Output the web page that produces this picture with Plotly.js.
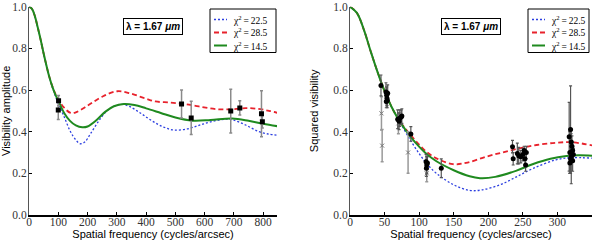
<!DOCTYPE html>
<html>
<head>
<meta charset="utf-8">
<script src="https://cdn.plot.ly/plotly-3.0.1.min.js"></script>
<style>html,body{margin:0;padding:0;background:#fff;}#plot{width:600px;height:240px;}</style>
</head>
<body>
<div id="plot"></div>
<script>
// ---------- Left panel: visibility amplitude ----------
var leftBlueX  = [0,10,20,30,40,50,60,70,80,90,100,120,140,160,175,190,210,240,270,300,320,345,380,420,460,495,540,580,620,672,700,740,785,820,850];
var leftBlueY  = [1.0,0.99,0.955,0.9,0.84,0.775,0.715,0.66,0.612,0.572,0.535,0.472,0.405,0.36,0.342,0.35,0.39,0.455,0.505,0.527,0.531,0.52,0.49,0.452,0.422,0.408,0.413,0.43,0.447,0.46,0.455,0.432,0.40,0.388,0.383];
var leftRedX   = [0,10,20,30,40,50,60,70,80,90,100,120,142,160,200,250,302,350,400,432,480,530,580,640,700,740,780,820,850];
var leftRedY   = [1.0,0.99,0.955,0.9,0.84,0.775,0.715,0.66,0.617,0.582,0.555,0.515,0.49,0.493,0.525,0.568,0.594,0.582,0.558,0.545,0.54,0.533,0.521,0.508,0.508,0.513,0.51,0.5,0.49];
var leftGreenX = [0,10,20,30,40,50,60,70,80,90,100,120,140,160,182,200,230,260,290,324,360,400,450,500,558,620,694,750,800,850];
var leftGreenY = [1.0,0.99,0.955,0.9,0.84,0.775,0.715,0.66,0.615,0.578,0.548,0.49,0.452,0.43,0.421,0.425,0.455,0.495,0.522,0.533,0.528,0.512,0.49,0.468,0.453,0.456,0.463,0.452,0.438,0.426];
var leftDataX   = [100,101,521,554,689,720,794,797];
var leftDataY   = [0.504,0.549,0.533,0.466,0.499,0.514,0.486,0.448];
var leftDataErr = [0.045,0.025,0.067,0.08,0.105,0.034,0.11,0.03];

// ---------- Right panel: squared visibility ----------
var rightBlueX  = [0,10,20,30,40,50,60,70,80,90,100,110,125,150,173,190,217,240,265,298,320,350];
var rightBlueY  = [1.0,0.97,0.89,0.785,0.685,0.595,0.52,0.46,0.40,0.345,0.295,0.25,0.2,0.145,0.118,0.12,0.145,0.182,0.224,0.265,0.275,0.273];
var rightRedX   = [0,10,20,30,40,50,60,70,80,90,100,110,125,149,170,197,220,245,270,298,322,350];
var rightRedY   = [1.0,0.97,0.89,0.785,0.685,0.595,0.52,0.46,0.415,0.375,0.338,0.305,0.272,0.244,0.252,0.28,0.3,0.32,0.336,0.347,0.349,0.334];
var rightGreenX = [0,10,20,30,40,50,60,70,80,90,100,110,125,150,173,188,210,240,265,290,313,330,350];
var rightGreenY = [1.0,0.97,0.89,0.785,0.685,0.595,0.52,0.46,0.41,0.365,0.328,0.295,0.258,0.215,0.186,0.177,0.183,0.212,0.245,0.27,0.283,0.287,0.285];
var rightDotX   = [44.8,52,53,53.5,54,52.5,54.5,69,71,72,74,75,88,110,111,110.5,112,132,235,236,242,244,247,250,252,253,254,255,317,319,318,320,321,322,320,319,322,323,318];
var rightDotY   = [0.622,0.59,0.575,0.56,0.55,0.545,0.585,0.46,0.45,0.465,0.47,0.475,0.389,0.256,0.24,0.225,0.25,0.224,0.328,0.27,0.295,0.285,0.28,0.29,0.31,0.27,0.24,0.30,0.376,0.41,0.30,0.28,0.33,0.26,0.35,0.27,0.31,0.29,0.25];
var rightDotErr = [0.05,0.045,0.04,0.035,0.035,0.03,0.04,0.045,0.04,0.04,0.035,0.035,0.035,0.035,0.04,0.04,0.03,0.045,0.03,0.03,0.05,0.04,0.03,0.03,0.02,0.03,0.03,0.03,0.165,0.21,0.1,0.13,0.05,0.05,0.04,0.06,0.04,0.03,0.05];
var rightXmarkX   = [45.5,46.5,70,84,111];
var rightXmarkY   = [0.488,0.333,0.44,0.30,0.20];
var rightXmarkErr = [0.08,0.077,0.05,0.1,0.04];

var legendNames = ['\u03c7<sup>2</sup>\u2009=\u200922.5', '\u03c7<sup>2</sup>\u2009=\u200928.5', '\u03c7<sup>2</sup>\u2009=\u200914.5'];
var yTicks = [0,0.2,0.4,0.6,0.8,1.0];
var leftXTicks = [0,100,200,300,400,500,600,700,800];
var rightXTicks = [0,50,100,150,200,250,300,350];

var BLUE = '#2b3ee0', RED = '#e8222c', GREEN = '#1f8a1f';

function curve(x, y, color, dash, width, xa, ya) {
  return {x: x, y: y, mode: 'lines', xaxis: xa, yaxis: ya, showlegend: false, hoverinfo: 'skip',
          line: {color: color, dash: dash, width: width, shape: 'spline', smoothing: 1}};
}

var traces = [
  curve(leftBlueX, leftBlueY, BLUE, '2px,2px', 1.3, 'x', 'y'),
  curve(leftRedX, leftRedY, RED, '5px,3px', 1.8, 'x', 'y'),
  curve(leftGreenX, leftGreenY, GREEN, 'solid', 2, 'x', 'y'),
  {x: leftDataX, y: leftDataY, mode: 'markers', xaxis: 'x', yaxis: 'y', showlegend: false,
   marker: {symbol: 'square', size: 5, color: '#000'},
   error_y: {type: 'data', array: leftDataErr, color: '#8a8a8a', thickness: 1.5, width: 1.5}},
  curve(rightBlueX, rightBlueY, BLUE, '2px,2px', 1.3, 'x2', 'y2'),
  curve(rightRedX, rightRedY, RED, '5px,3px', 1.8, 'x2', 'y2'),
  curve(rightGreenX, rightGreenY, GREEN, 'solid', 2, 'x2', 'y2'),
  {x: rightXmarkX, y: rightXmarkY, mode: 'markers', xaxis: 'x2', yaxis: 'y2', showlegend: false,
   marker: {symbol: 'x-thin', size: 4, color: '#777', line: {color: '#777', width: 1}},
   error_y: {type: 'data', array: rightXmarkErr, color: '#999', thickness: 1.5, width: 1.5}},
  {x: rightDotX, y: rightDotY, mode: 'markers', xaxis: 'x2', yaxis: 'y2', showlegend: false,
   marker: {symbol: 'circle', size: 5, color: '#000'},
   error_y: {type: 'data', array: rightDotErr, color: '#555', thickness: 1.2, width: 1.5}}
];

function px(x) { return x / 600; }
function py(y) { return 1 - y / 240; }

var tickFont = {family: 'Liberation Serif, serif', size: 11.5, color: '#333'};
var titleFont = {family: 'Liberation Sans, Arial, sans-serif', size: 11, color: '#000'};

function xAxis(domain, range, ticks, title) {
  return {domain: domain, range: range, tickvals: ticks, ticktext: ticks.map(String),
          ticks: 'inside', ticklen: 3, tickcolor: '#000', showline: true, linecolor: '#000', linewidth: 1.5,
          showgrid: false, zeroline: false, tickfont: tickFont, ticklabelstandoff: -4,
          title: {text: title, font: titleFont}};
}
function yAxis(domain, anchor, title) {
  return {domain: domain, range: [0, 1], anchor: anchor, tickvals: yTicks, ticktext: yTicks.map(function(v){return v.toFixed(1);}),
          ticks: 'inside', ticklen: 3, tickcolor: '#000', showline: true, linecolor: '#555', linewidth: 1,
          showgrid: false, zeroline: false, tickfont: tickFont, ticklabelstandoff: -1,
          title: {text: title, font: titleFont}};
}
function frameX(over, anchor, range, ticks) {
  return {overlaying: over, anchor: anchor, side: 'top', range: range, tickvals: ticks, showticklabels: false,
          ticks: 'inside', ticklen: 3, tickcolor: '#666', showline: true, linecolor: '#666', linewidth: 1,
          showgrid: false, zeroline: false};
}
function frameY(over, anchor) {
  return {overlaying: over, anchor: anchor, side: 'right', range: [0, 1], tickvals: yTicks, showticklabels: false,
          ticks: 'inside', ticklen: 3, tickcolor: '#666', showline: true, linecolor: '#666', linewidth: 1,
          showgrid: false, zeroline: false};
}

var yDom = [py(215), py(6.7)];
var layout = {
  width: 600, height: 240,
  margin: {l: 0, r: 0, t: 0, b: 0},
  paper_bgcolor: '#fff', plot_bgcolor: '#fff',
  showlegend: false,
  xaxis: Object.assign(xAxis([px(29), px(277)], [0, 847], leftXTicks, 'Spatial frequency (cycles/arcsec)'), {anchor: 'y'}),
  yaxis: yAxis(yDom, 'x', 'Visibility amplitude'),
  xaxis2: Object.assign(xAxis([px(350), px(592)], [0, 350], rightXTicks, 'Spatial frequency (cycles/arcsec)'), {anchor: 'y2'}),
  yaxis2: yAxis(yDom, 'x2', 'Squared visibility'),
  xaxis3: frameX('x', 'y', [0, 847], leftXTicks),
  yaxis3: frameY('y', 'x'),
  xaxis4: frameX('x2', 'y2', [0, 350], rightXTicks),
  yaxis4: frameY('y2', 'x2'),
  shapes: [],
  annotations: []
};

// Legends (drawn manually to match the compact matplotlib legend boxes)
function addLegend(x0, x1, y0, y1) {
  layout.shapes.push({type: 'rect', xref: 'paper', yref: 'paper', x0: px(x0), x1: px(x1), y0: py(y1), y1: py(y0),
                      line: {color: '#000', width: 1}, fillcolor: '#fff', layer: 'above'});
  var styles = [[BLUE, '2px,2px', 1.3], [RED, '5px,3px', 1.8], [GREEN, 'solid', 2]];
  var rows = [19.5, 32.5, 45.5];
  for (var i = 0; i < 3; i++) {
    layout.shapes.push({type: 'line', xref: 'paper', yref: 'paper', x0: px(x0 + 4), x1: px(x0 + 17),
                        y0: py(rows[i]), y1: py(rows[i]), layer: 'above',
                        line: {color: styles[i][0], dash: styles[i][1], width: styles[i][2]}});
    layout.annotations.push({xref: 'paper', yref: 'paper', x: px(x0 + 21), y: py(rows[i]), xanchor: 'left', yanchor: 'middle',
                             text: legendNames[i], showarrow: false,
                             font: {family: 'Liberation Serif, serif', size: 9.5, color: '#000'}});
  }
}
addLegend(210, 276, 9, 52.5);
addLegend(528, 589, 9, 52.5);

function addLambda(cx) {
  layout.annotations.push({xref: 'paper', yref: 'paper', x: px(cx), y: py(26.3), xanchor: 'center', yanchor: 'middle',
                           text: '<b>\u03bb = 1.67 <i>\u03bcm</i></b>', showarrow: false,
                           bordercolor: '#000', borderwidth: 1, borderpad: 2, bgcolor: '#fff',
                           font: {family: 'Liberation Sans, Arial, sans-serif', size: 10, color: '#000'}});
}
addLambda(152.5);
addLambda(471);

Plotly.newPlot('plot', traces, layout, {staticPlot: true, displayModeBar: false});
</script>
</body>
</html>
